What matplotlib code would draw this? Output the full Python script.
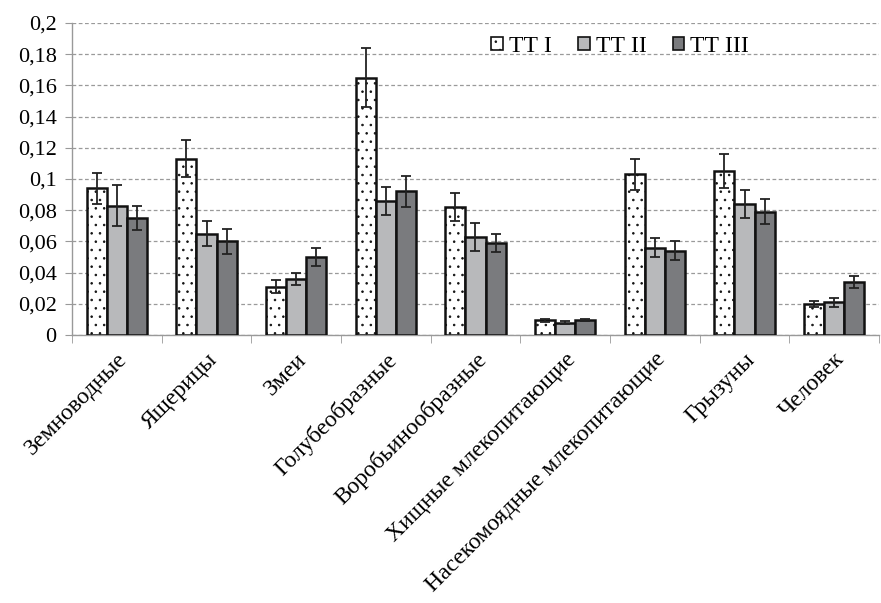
import matplotlib
matplotlib.use("Agg")
import matplotlib.pyplot as plt
import numpy as np

categories = ["Земноводные", "Ящерицы", "Змеи", "Голубеобразные", "Воробьинообразные",
              "Хищные млекопитающие", "Насекомоядные млекопитающие", "Грызуны", "Человек"]
series_names = ["ТТ I", "ТТ II", "ТТ III"]
tt1 = [0.094, 0.113, 0.031, 0.165, 0.082, 0.0095, 0.103, 0.105, 0.020]
tt2 = [0.083, 0.065, 0.036, 0.086, 0.063, 0.008, 0.056, 0.084, 0.021]
tt3 = [0.075, 0.060, 0.050, 0.092, 0.059, 0.0095, 0.054, 0.079, 0.034]
err1 = [0.010, 0.012, 0.004, 0.019, 0.009, 0.001, 0.010, 0.011, 0.002]
err2 = [0.013, 0.008, 0.004, 0.009, 0.009, 0.0007, 0.006, 0.009, 0.003]
err3 = [0.008, 0.008, 0.006, 0.010, 0.006, 0.0008, 0.006, 0.008, 0.004]
yticks = [0, 0.02, 0.04, 0.06, 0.08, 0.1, 0.12, 0.14, 0.16, 0.18, 0.2]
ytick_labels = ["0", "0,02", "0,04", "0,06", "0,08", "0,1", "0,12", "0,14", "0,16", "0,18", "0,2"]

plt.rcParams['font.family'] = 'Liberation Serif'
plt.rcParams['hatch.linewidth'] = 0.6
plt.rcParams['hatch.color'] = '#111111'

fig = plt.figure(figsize=(8.81, 6.03), dpi=100)
ax = fig.add_axes([72/881, 1-335/603, (879-72)/881, (335-23)/603])

x = np.arange(len(categories))
w = 0.225
ekw = dict(ecolor="#222222", elinewidth=1.3, capsize=3.6, capthick=1.3)
ax.bar(x - w, tt1, w, yerr=err1, color="white", edgecolor="#111111", linewidth=1.8,
       hatch="..", label=series_names[0], error_kw=ekw, zorder=3)
ax.bar(x, tt2, w, yerr=err2, color="#b8b9bb", edgecolor="#111111", linewidth=1.8,
       label=series_names[1], error_kw=ekw, zorder=3)
ax.bar(x + w, tt3, w, yerr=err3, color="#7a7b7e", edgecolor="#111111", linewidth=1.8,
       label=series_names[2], error_kw=ekw, zorder=3)

ax.set_xlim(-0.5, len(categories) - 0.5)
ax.set_ylim(0, 0.2)
ax.set_yticks(yticks)
ax.set_yticklabels(ytick_labels, fontsize=16)
ax.yaxis.grid(True, linestyle=(0, (3, 2)), color="#9a9a9a", linewidth=0.9, zorder=0)
ax.set_axisbelow(True)

ax.set_xticks(x)
ax.set_xticklabels(categories, rotation=45, ha="right", rotation_mode="anchor", fontsize=17)
ax.set_xticks(np.arange(len(categories) + 1) - 0.5, minor=True)
ax.tick_params(axis="x", which="major", length=0, pad=10)
ax.tick_params(axis="x", which="minor", length=6, color="#999999", direction="out")
ax.tick_params(axis="y", length=5, color="#999999", direction="out", pad=6)

for s in ["top", "right"]:
    ax.spines[s].set_visible(False)
for s in ["left", "bottom"]:
    ax.spines[s].set_color("#999999")
    ax.spines[s].set_linewidth(1.0)

leg = ax.legend(loc="center left", bbox_to_anchor=(0.508, 0.925), ncol=3, frameon=False,
                fontsize=17, handlelength=0.5, handleheight=0.5, handletextpad=0.25,
                columnspacing=1.1, borderaxespad=0)
for h in leg.legend_handles:
    h.set_linewidth(1.2)

fig.savefig("out.png", dpi=100)
